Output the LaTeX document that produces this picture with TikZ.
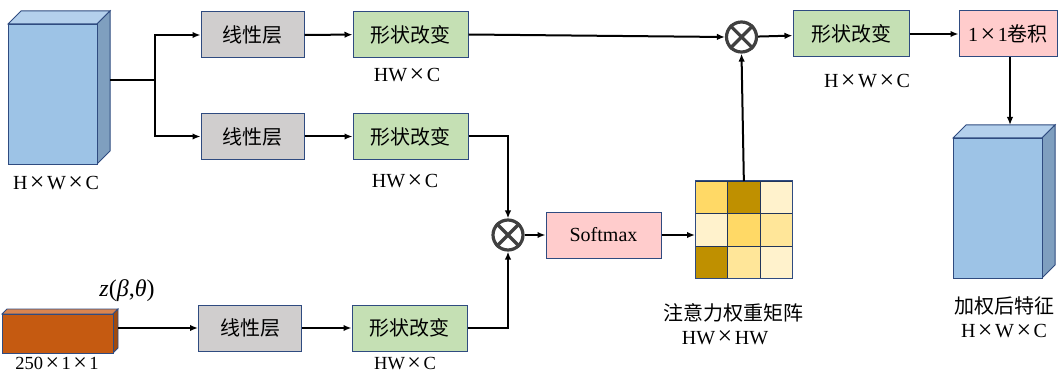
\documentclass[tikz,border=0pt]{standalone}
\usepackage{fontspec}
\setmainfont{Liberation Serif}
\newfontfamily\cjk{Noto Sans CJK SC}
\usetikzlibrary{arrows.meta}
\definecolor{bordc}{HTML}{2F4B80}
\definecolor{grayc}{HTML}{D0CECE}
\definecolor{greenc}{HTML}{C5E0B4}
\definecolor{pinkc}{HTML}{FFCCCC}
\definecolor{bluef}{HTML}{9DC3E6}
\definecolor{bluet}{HTML}{B4D0EC}
\definecolor{blues}{HTML}{7F9FBF}
\definecolor{orf}{HTML}{C55A11}
\definecolor{ort}{HTML}{D98550}
\definecolor{ors}{HTML}{A04A0E}
\definecolor{ylA}{HTML}{FFD966}
\definecolor{ylB}{HTML}{BF9000}
\definecolor{ylC}{HTML}{FFF2CC}
\definecolor{ylD}{HTML}{FFE699}
\definecolor{otc}{HTML}{404040}
\newcommand\tX{\hspace{2.5pt}\raisebox{-0.04em}{\scalebox{1.3}{×}}\hspace{2.5pt}}
\begin{document}
\begin{tikzpicture}[x=1pt,y=-1pt,
  box/.style={draw=bordc, line width=1pt, minimum height=46pt, inner sep=0pt, font=\cjk\fontsize{20}{22}\selectfont},
  lin/.style={box, fill=grayc, minimum width=103pt},
  shp/.style={box, fill=greenc, minimum width=115pt},
  arr/.style={line width=2pt, -{Latex[length=8pt,width=6.5pt]}},
  ln/.style={line width=2pt},
  lbl/.style={inner sep=0pt, font=\fontsize{20}{22}\selectfont},
  blbl/.style={inner sep=0pt, font=\fontsize{18.5}{20}\selectfont},
  clbl/.style={inner sep=0pt, font=\cjk\fontsize{20}{22}\selectfont},
  otim/.style={circle, draw=otc, line width=3.2pt, minimum size=30pt, inner sep=0pt},
  cell/.style={draw=bordc!70!black, line width=0.8pt, minimum size=32.3pt, inner sep=0pt, anchor=north west},
  face/.style={draw=bordc, line width=1pt, inner sep=0pt}
]
\useasboundingbox (0,0) rectangle (1059,374);

% left cube
\fill[bluet,draw=bordc,line width=1pt] (8,24) -- (21,11) -- (110,11) -- (97,24) -- cycle;
\fill[blues,draw=bordc,line width=1pt] (97,24) -- (110,11) -- (110,151) -- (97,164) -- cycle;
\node[face, fill=bluef, minimum width=89pt, minimum height=140pt, anchor=north west] (cubeL) at (8,24) {};
\coordinate (cubeLout) at (110,80);
\coordinate (split) at (155,80);
\node[lbl] (tL) at (56,183) {H\tX W\tX C};

% right cube
\fill[bluet,draw=bordc,line width=1pt] (953,138) -- (966,125) -- (1055,125) -- (1042,138) -- cycle;
\fill[blues,draw=bordc,line width=1pt] (1042,138) -- (1055,125) -- (1055,265) -- (1042,278) -- cycle;
\node[face, fill=bluef, minimum width=89pt, minimum height=140pt, anchor=north west] (cubeR) at (953,138) {};
\coordinate (cubeRin) at (1010,125);
\node[clbl] (tR1) at (1004,306) {加权后特征};
\node[lbl] (tR2) at (1004,331) {H\tX W\tX C};

% orange bar
\fill[ort,draw=bordc,line width=0.8pt] (2,314) -- (7,309) -- (118,309) -- (113,314) -- cycle;
\fill[ors,draw=bordc,line width=0.8pt] (113,314) -- (118,309) -- (118,348) -- (113,353) -- cycle;
\node[face, draw=bordc, line width=0.8pt, fill=orf, minimum width=111pt, minimum height=39pt, anchor=north west] (bar) at (2,314) {};
\coordinate (barout) at (118,328);
\node[inner sep=0pt, font=\fontsize{24}{26}\selectfont] (zl) at (127,291) {\textit{z}(\textit{β},\textit{θ})};
\node[blbl] (tz) at (57,364) {250\tX 1\tX 1};

% boxes
\node[lin] (lin1) at (252.5,35) {线性层};
\node[lin] (lin2) at (252.5,136.5) {线性层};
\node[lin] (lin3) at (250,328) {线性层};
\node[shp] (shp1) at (410.5,34.5) {形状改变};
\node[shp] (shp2) at (410.5,136.5) {形状改变};
\node[shp] (shp3) at (409.5,328) {形状改变};
\node[blbl] (t3) at (405,364) {HW\tX C};
\node[lbl] (t1) at (407,75) {HW\tX C};
\node[lbl] (t2) at (405,181) {HW\tX C};

\node[shp, minimum width=116pt] (shp4) at (851,34) {形状改变};
\node[lbl] (t4) at (867,81) {H\tX W\tX C};
\node[box, fill=pinkc, minimum width=98pt] (conv) at (1008,34) {\rmfamily 1\tX 1{\cjk 卷积}};

\node[otim] (ot1) at (741.5,37) {};
\node[otim] (ot2) at (508,235) {};
\foreach \o in {ot1,ot2}{
  \draw[otc, line width=3.2pt] (\o.north east) -- (\o.south west) (\o.north west) -- (\o.south east);
}

\node[box, fill=pinkc, minimum width=115pt, font=\fontsize{20}{22}\selectfont] (soft) at (603.5,235) {Softmax};

% matrix
\node[cell, fill=ylA] (m11) at (695,181) {};
\node[cell, fill=ylB] (m12) at (727.3,181) {};
\node[cell, fill=ylC] (m13) at (759.6,181) {};
\node[cell, fill=ylC] (m21) at (695,213.3) {};
\node[cell, fill=ylA] (m22) at (727.3,213.3) {};
\node[cell, fill=ylD] (m23) at (759.6,213.3) {};
\node[cell, fill=ylB] (m31) at (695,245.6) {};
\node[cell, fill=ylD] (m32) at (727.3,245.6) {};
\node[cell, fill=ylC] (m33) at (759.6,245.6) {};
\draw[bordc, line width=1pt] (m11.north west) rectangle (m33.south east);
\node[clbl] (tm1) at (733,313) {注意力权重矩阵};
\node[lbl] (tm2) at (725,338) {HW\tX HW};

% connectors
\draw[ln] (cubeLout) -- (split);
\draw[arr] (split) |- (lin1.west);
\draw[arr] (split) |- (lin2.west);
\draw[arr] (barout) -- (lin3.west);
\draw[arr] (lin1) -- (shp1);
\draw[arr] (lin2) -- (shp2);
\draw[arr] (lin3) -- (shp3);
\draw[arr] (shp1.east) -- (ot1.west);
\draw[arr] (shp2.east) -| (ot2.north);
\draw[arr] (shp3.east) -| (ot2.south);
\draw[arr] (ot2) -- (soft);
\draw[arr] (soft.east) -- (soft.east -| m21.west);
\draw[arr] (m12.north) -- (ot1.south);
\draw[arr] (ot1) -- (shp4);
\draw[arr] (shp4) -- (conv);
\draw[arr] (conv.south -| cubeRin) -- (cubeRin);
\end{tikzpicture}
\end{document}
